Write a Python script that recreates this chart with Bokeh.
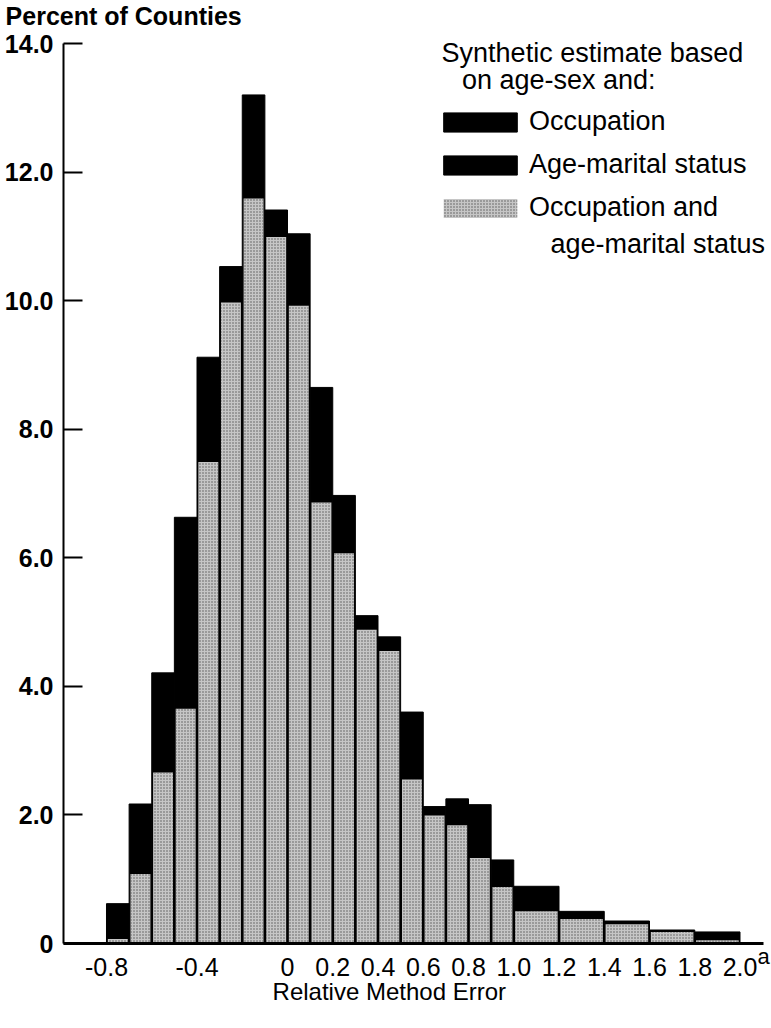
from bokeh.plotting import figure
from bokeh.models import Range1d, FixedTicker, Legend, LegendItem, Label, ColumnDataSource
from bokeh.embed import file_html
from bokeh.resources import INLINE

# ---- data ----
bin_left = [-0.8, -0.7, -0.6, -0.5, -0.4, -0.3, -0.2, -0.1, 0.0, 0.1, 0.2, 0.3,
            0.4, 0.5, 0.6, 0.7, 0.8, 0.9, 1.0, 1.2, 1.4, 1.6, 1.8]
bin_right = [-0.7, -0.6, -0.5, -0.4, -0.3, -0.2, -0.1, 0.0, 0.1, 0.2, 0.3, 0.4,
             0.5, 0.6, 0.7, 0.8, 0.9, 1.0, 1.2, 1.4, 1.6, 1.8, 2.0]
# visible top of the two black series (occupation / age-marital status)
black_top = [0.62, 2.17, 4.21, 6.63, 9.12, 10.53, 13.20, 11.41, 11.04, 8.65, 6.97, 5.10,
             4.77, 3.60, 2.13, 2.25, 2.16, 1.30, 0.89, 0.50, 0.35, 0.21, 0.18]
# occupation and age-marital status
combined = [0.07, 1.08, 2.66, 3.65, 7.49, 9.97, 11.59, 10.99, 9.92, 6.86, 6.07, 4.88,
            4.55, 2.55, 1.99, 1.84, 1.33, 0.88, 0.50, 0.38, 0.30, 0.18, 0.05]

x_ticks = [-0.8, -0.4, 0.0, 0.2, 0.4, 0.6, 0.8, 1.0, 1.2, 1.4, 1.6, 1.8, 2.0]
x_tick_labels = ["-0.8", "-0.4", "0", "0.2", "0.4", "0.6", "0.8", "1.0", "1.2",
                 "1.4", "1.6", "1.8", "2.0"]
y_ticks = [0, 2, 4, 6, 8, 10, 12, 14]
y_tick_labels = ["0", "2.0", "4.0", "6.0", "8.0", "10.0", "12.0", "14.0"]

FONT = "Liberation Sans"
GAP = 0.006  # visual inset of grey bars (shows black separators)

# plot area spans the whole canvas; axes are pinned with fixed_location/bounds
X_AXIS_AT = 0.0
Y_AXIS_AT = -0.990
X_BOUNDS = (-0.990, 2.104)
Y_BOUNDS = (0, 14)

p = figure(width=771, height=1024, output_backend="svg", toolbar_location=None,
           title=None, x_range=Range1d(-1.2685, 2.1392), y_range=Range1d(-1.260, 14.669),
           min_border_left=0, min_border_right=0, min_border_top=0, min_border_bottom=0)
p.outline_line_color = None
p.xgrid.grid_line_color = None
p.ygrid.grid_line_color = None
p.background_fill_color = "white"

src_b = ColumnDataSource(dict(left=bin_left, right=bin_right, top=black_top))
src_g = ColumnDataSource(dict(left=[l + GAP for l in bin_left],
                              right=[r - GAP for r in bin_right], top=combined))

rb = p.quad(left="left", right="right", bottom=0, top="top", source=src_b,
            fill_color="black", line_color="black", line_width=1)
rg = p.quad(left="left", right="right", bottom=0, top="top", source=src_g,
            fill_color="#c6c6c6", line_color=None,
            hatch_pattern="dot", hatch_scale=3, hatch_weight=1.2,
            hatch_color="#4a4a4a", hatch_alpha=0.9)

# axes
xa = p.xaxis[0]
xa.fixed_location = X_AXIS_AT
xa.bounds = X_BOUNDS
xa.ticker = FixedTicker(ticks=x_ticks)
xa.major_label_overrides = {t: s for t, s in zip(x_ticks, x_tick_labels)}
xa.major_tick_line_color = None
xa.minor_tick_line_color = None
xa.axis_line_width = 3
xa.axis_line_color = "black"
xa.major_label_text_font = FONT
xa.major_label_text_font_size = "25px"
xa.major_label_text_color = "black"
xa.major_label_standoff = 8

ya = p.yaxis[0]
ya.fixed_location = Y_AXIS_AT
ya.bounds = Y_BOUNDS
ya.ticker = FixedTicker(ticks=y_ticks)
ya.major_label_overrides = {t: s for t, s in zip(y_ticks, y_tick_labels)}
ya.major_tick_in = 19
ya.major_tick_out = 0
ya.major_tick_line_width = 2
ya.minor_tick_line_color = None
ya.axis_line_width = 2
ya.axis_line_color = "black"
ya.major_label_text_font = FONT
ya.major_label_text_font_size = "25px"
ya.major_label_text_font_style = "bold"
ya.major_label_text_color = "black"
ya.major_label_standoff = 10

def lab(text, x, y, size, style="normal"):
    p.add_layout(Label(x=x, y=y, text=text, text_font=FONT, text_font_size=size,
                       text_font_style=style, text_align="left",
                       text_baseline="alphabetic", text_color="black"))

lab("Percent of Counties", -1.246, 14.43, "25px", style="bold")
lab("Relative Method Error", -0.066, -0.74, "24px")
lab("a", 2.077, -0.196, "22px")
lab("Synthetic estimate based", 0.681, 13.857, "27px")
lab("on age-sex and:", 0.771, 13.425, "27px")
lab("age-marital status", 1.162, 10.88, "27px")

legend = Legend(items=[LegendItem(label="Occupation", renderers=[rb]),
                       LegendItem(label="Age-marital status", renderers=[rb]),
                       LegendItem(label="Occupation and", renderers=[rg])],
                location=(434, 801), glyph_width=92, glyph_height=24,
                label_height=31, spacing=12, padding=0, margin=0,
                label_standoff=3, label_text_font=FONT, label_text_font_size="27px",
                label_text_color="black", border_line_color=None,
                background_fill_alpha=0)
p.add_layout(legend)

open("out.html", "w").write(file_html(p, INLINE))
